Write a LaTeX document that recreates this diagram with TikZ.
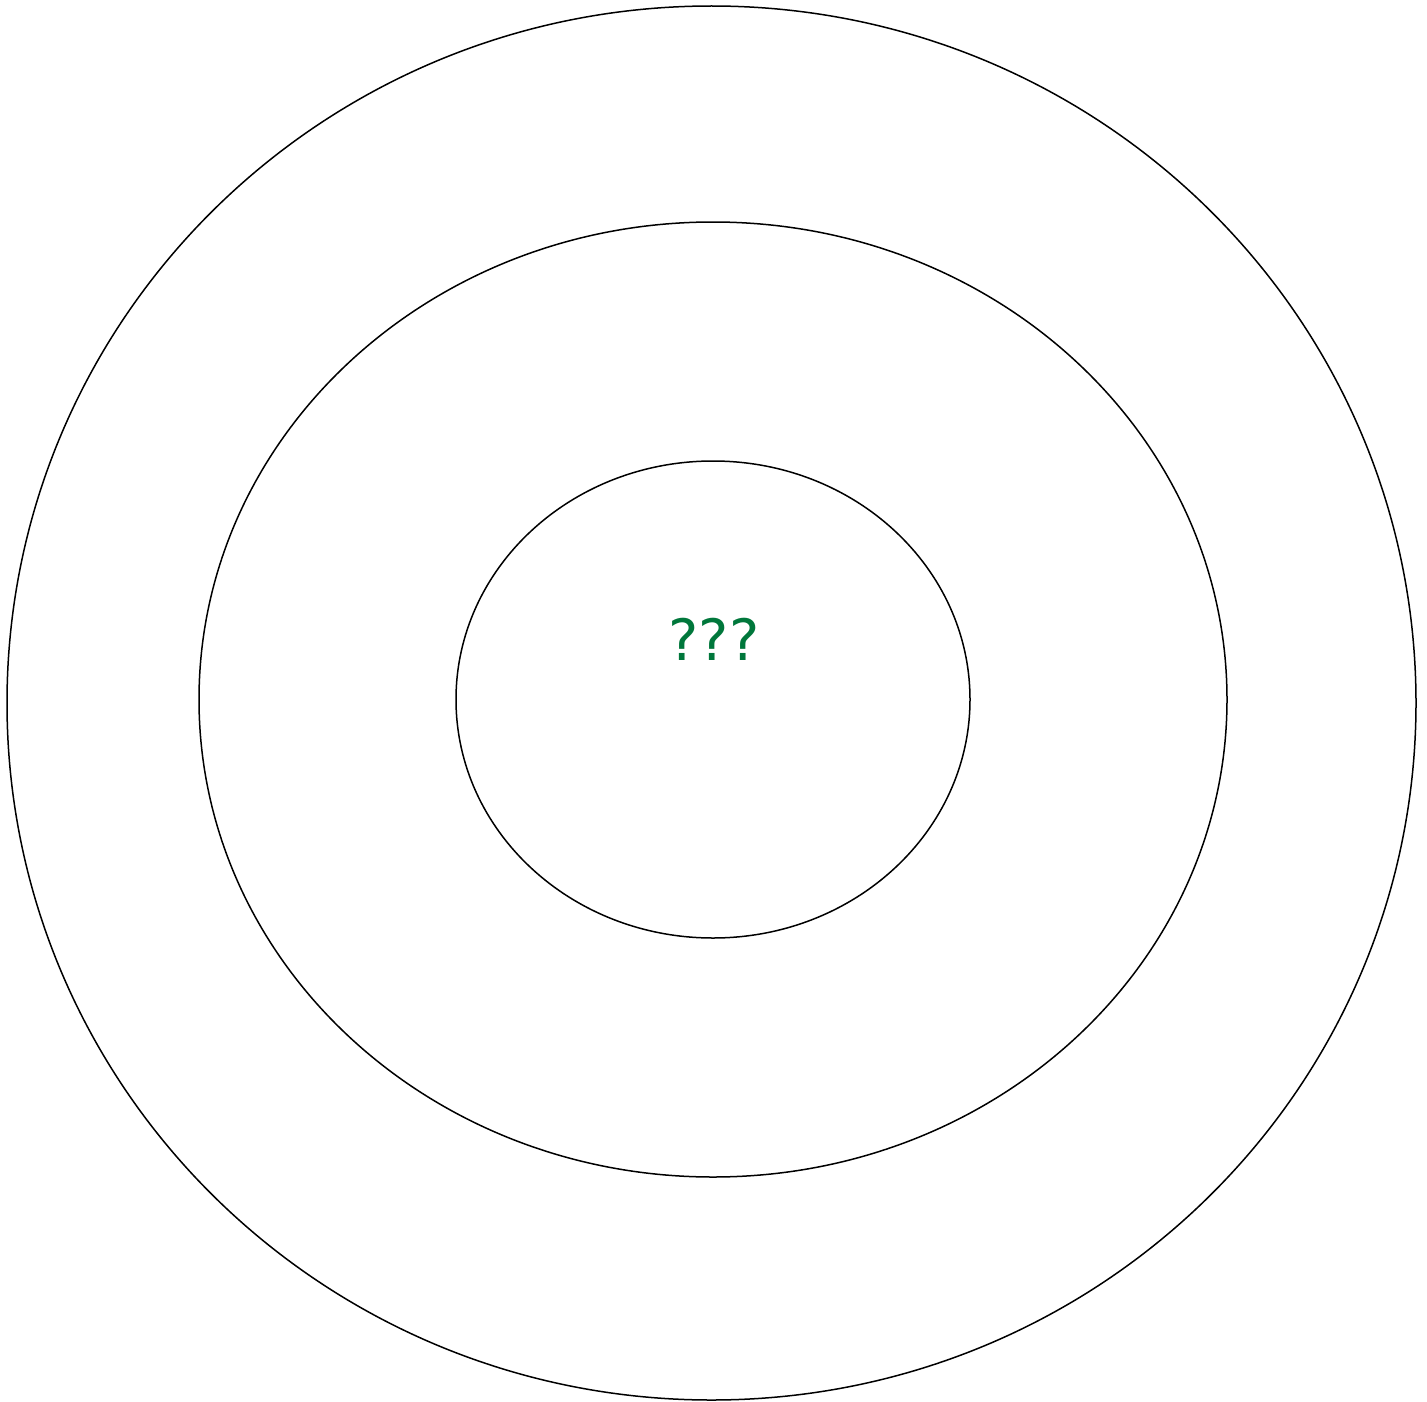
\documentclass[tikz,border=0pt]{standalone}
\usepackage{fontspec}
\setmainfont{DejaVu Sans}
\definecolor{qgreen}{RGB}{0,119,59}
\begin{document}
\begin{tikzpicture}[x=1pt,y=-1pt,
  ring/.style={draw=black,line width=1.5pt}]
\useasboundingbox (0,0) rectangle (1427,1402);
\draw[ring] (711.5,703) ellipse [x radius=704.5,y radius=697];
\draw[ring] (713,699.5) ellipse [x radius=514,y radius=477.5];
\draw[ring] (713,699.5) ellipse [x radius=257,y radius=238.5];
\node[text=qgreen,font=\fontsize{57}{68}\selectfont,inner sep=0pt] (q) at (714,639) {???};
\end{tikzpicture}
\end{document}
